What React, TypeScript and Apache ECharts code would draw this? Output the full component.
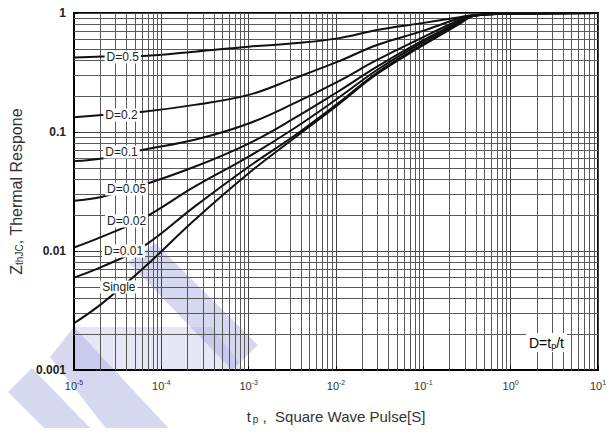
import React, { useEffect, useRef } from "react";
import * as echarts from "echarts";

// pulse width (s)
const tp = [1e-5, 2.1e-5, 6.2e-5, 2.4e-4, 1e-3, 3.3e-3, 1.05e-2, 2.95e-2, 9.3e-2, 0.26, 0.38, 1, 10];

const seriesNames = ["D=0.5", "D=0.2", "D=0.1", "D=0.05", "D=0.02", "D=0.01", "Single"];
const d05 = [0.422, 0.43, 0.436, 0.473, 0.521, 0.556, 0.612, 0.719, 0.818, 0.92, 0.962, 0.988, 1.0];
const d02 = [0.133, 0.139, 0.148, 0.169, 0.205, 0.282, 0.39, 0.538, 0.697, 0.902, 0.958, 0.988, 1.0];
const d01 = [0.057, 0.06, 0.071, 0.086, 0.118, 0.174, 0.265, 0.403, 0.612, 0.873, 0.955, 0.988, 1.0];
const d005 = [0.0265, 0.0286, 0.0359, 0.051, 0.08, 0.13, 0.218, 0.354, 0.574, 0.845, 0.952, 0.988, 1.0];
const d002 = [0.0107, 0.0132, 0.0188, 0.0347, 0.0621, 0.107, 0.192, 0.332, 0.556, 0.83, 0.95, 0.988, 1.0];
const d001 = [0.00597, 0.00738, 0.0109, 0.0236, 0.0511, 0.0925, 0.174, 0.315, 0.531, 0.818, 0.95, 0.988, 1.0];
const single = [0.00247, 0.00363, 0.00715, 0.0182, 0.045, 0.0885, 0.169, 0.307, 0.521, 0.809, 0.95, 0.988, 1.0];
const allSeries = [d05, d02, d01, d005, d002, d001, single];

// where each curve label sits (tp, Z)
const labelAnchors: [number, number][] = [
  [3.62e-5, 0.427],
  [3.5e-5, 0.139],
  [3.5e-5, 0.068],
  [4.0e-5, 0.0332],
  [4.0e-5, 0.0179],
  [3.7e-5, 0.01],
  [3.26e-5, 0.00498],
];

const xExponents = ["-5", "-4", "-3", "-2", "-1", "0", "1"];
const yTickLabels = ["0.001", "0.01", "0.1", "1"];

export default function App() {
  const ref = useRef<HTMLDivElement>(null);
  useEffect(() => {
    if (!ref.current) return;
    const chart = echarts.init(ref.current, undefined, { renderer: "svg" });

    const minorX: number[] = [];
    for (let e = -5; e <= 0; e++) for (let m = 2; m <= 9; m++) minorX.push(m * Math.pow(10, e));
    const minorY: number[] = [];
    for (let e = -3; e <= -1; e++) for (let m = 2; m <= 9; m++) minorY.push(m * Math.pow(10, e));

    const font = "Liberation Sans, Arial, sans-serif";

    const curveSeries = allSeries.map((vals, i) => ({
      type: "line",
      name: seriesNames[i],
      data: tp.map((t, j) => [t, vals[j]]),
      smooth: 0.4,
      showSymbol: false,
      symbol: "none",
      z: 5,
      lineStyle: { color: "#111", width: 2 },
      markPoint: {
        symbol: "rect",
        symbolSize: 1,
        itemStyle: { color: "rgba(0,0,0,0)" },
        silent: true,
        z: 6,
        data: [
          {
            coord: labelAnchors[i],
            label: {
              show: true,
              position: "inside",
              formatter: seriesNames[i],
              color: "#222",
              fontSize: 12,
              fontFamily: font,
              backgroundColor: "#fff",
              padding: [1, 2, 0, 2],
            },
          },
        ],
      },
    }));

    const gridSeries = {
      type: "lines",
      coordinateSystem: "cartesian2d",
      silent: true,
      z: 1,
      lineStyle: { color: "#595959", width: 1, opacity: 1 },
      data: [
        ...minorX.map((v) => ({ coords: [[v, 0.001], [v, 1]] })),
        ...minorY.map((v) => ({ coords: [[1e-5, v], [10, v]] })),
      ],
    };

    const option = {
      animation: false,
      backgroundColor: "#fff",
      grid: {
        left: 72,
        top: 13,
        width: 526,
        height: 357,
        show: true,
        borderColor: "#000",
        borderWidth: 2,
        backgroundColor: "transparent",
      },
      xAxis: {
        type: "log",
        logBase: 10,
        min: 1e-5,
        max: 10,
        name: "{t|t}{p|p}{c| ,  Square Wave Pulse[S]}",
        nameLocation: "middle",
        nameGap: 38,
        nameTextStyle: {
          rich: {
            t: { fontSize: 15, fontFamily: font, color: "#333" },
            p: { fontSize: 10, fontFamily: font, color: "#333", padding: [6, 0, 0, 2] },
            c: { fontSize: 15, fontFamily: font, color: "#333" },
          },
        },
        axisLine: { show: true, lineStyle: { color: "#000", width: 2 } },
        axisTick: { show: true, inside: true, length: 4, lineStyle: { color: "#000" } },
        splitLine: { show: true, lineStyle: { color: "#444", width: 1 } },
        axisLabel: {
          margin: 9,
          formatter: (v: number) => {
            const idx = Math.round(Math.log10(v)) + 5;
            return "{b|10}{s|" + xExponents[idx] + "}";
          },
          rich: {
            b: { fontSize: 11, fontFamily: font, color: "#333" },
            s: { fontSize: 7, fontFamily: font, color: "#333", padding: [0, 0, 7, 0] },
          },
        },
      },
      yAxis: {
        type: "log",
        logBase: 10,
        min: 0.001,
        max: 1,
        name: "{z|Z}{s|thJC}{c|, Thermal Respone}",
        nameLocation: "middle",
        nameGap: 50,
        nameRotate: 90,
        nameTextStyle: {
          rich: {
            z: { fontSize: 16, fontFamily: font, color: "#333" },
            s: { fontSize: 10, fontFamily: font, color: "#333", padding: [6, 0, 0, 0] },
            c: { fontSize: 16, fontFamily: font, color: "#333" },
          },
        },
        axisLine: { show: true, lineStyle: { color: "#000", width: 2 } },
        axisTick: { show: true, inside: true, length: 4, lineStyle: { color: "#000" } },
        splitLine: { show: true, lineStyle: { color: "#444", width: 1 } },
        axisLabel: {
          margin: 8,
          fontSize: 12,
          fontWeight: "bold",
          fontFamily: font,
          color: "#222",
          formatter: (v: number) => {
            const idx = Math.round(Math.log10(v)) + 3;
            return yTickLabels[idx];
          },
        },
      },
      series: [gridSeries, ...curveSeries],
      graphic: [
        {
          type: "text",
          left: 526,
          top: 333,
          z: 50,
          style: {
            text: "{a|D=t}{p|p}{a|/t}",
            backgroundColor: "#fff",
            padding: [2, 3, 2, 3],
            rich: {
              a: { fontSize: 14, fontFamily: font, color: "#222" },
              p: { fontSize: 9, fontFamily: font, color: "#222", padding: [6, 0, 0, 0] },
            },
          },
        },
        {
          type: "group",
          z: 100,
          silent: true,
          children: [
            {
              type: "polygon",
              shape: { points: [[128, 262], [155, 243], [258, 345], [232, 370]] },
              style: { fill: "rgb(163,168,222)", opacity: 0.45 },
            },
            {
              type: "polygon",
              shape: { points: [[73, 327], [212, 327], [245, 370], [73, 370]] },
              style: { fill: "rgb(163,168,222)", opacity: 0.28 },
            },
            {
              type: "polygon",
              shape: { points: [[50, 357], [74, 327], [176, 436], [112, 436]] },
              style: { fill: "rgb(163,168,222)", opacity: 0.45 },
            },
            {
              type: "polygon",
              shape: { points: [[8, 392], [32, 368], [98, 436], [52, 436]] },
              style: { fill: "rgb(163,168,222)", opacity: 0.45 },
            },
          ],
        },
      ],
    };

    chart.setOption(option as any);
    return () => chart.dispose();
  }, []);

  return <div ref={ref} style={{ width: 614, height: 436, margin: -8 }} />;
}
